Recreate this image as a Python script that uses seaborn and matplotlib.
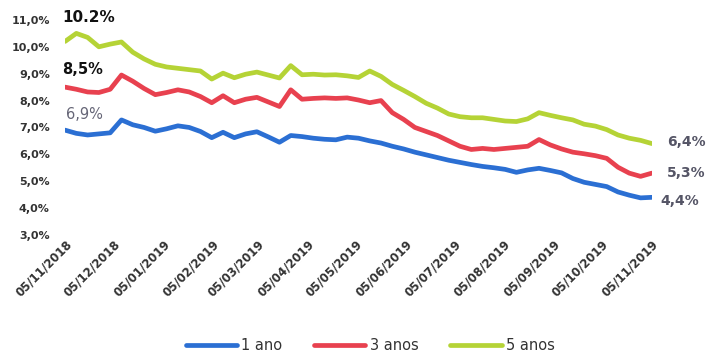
import numpy as np
import pandas as pd
import matplotlib
matplotlib.use("Agg")
import matplotlib.pyplot as plt
import seaborn as sns

# Weekly yields (%) from 05/11/2018 to 05/11/2019
series_names = ["1 ano", "3 anos", "5 anos"]

yield_1y = [6.90, 6.78, 6.72, 6.76, 6.80, 7.28, 7.10, 7.00, 6.86, 6.95,
            7.06, 7.00, 6.85, 6.62, 6.82, 6.62, 6.76, 6.84, 6.65, 6.45,
            6.70, 6.66, 6.60, 6.56, 6.54, 6.64, 6.60, 6.50, 6.42, 6.30,
            6.20, 6.08, 5.98, 5.88, 5.78, 5.70, 5.62, 5.55, 5.50, 5.44,
            5.33, 5.42, 5.48, 5.40, 5.31, 5.10, 4.96, 4.88, 4.80, 4.60,
            4.48, 4.38, 4.40]

yield_3y = [8.50, 8.42, 8.32, 8.30, 8.42, 8.95, 8.72, 8.45, 8.22, 8.30,
            8.40, 8.32, 8.15, 7.92, 8.18, 7.92, 8.05, 8.12, 7.95, 7.78,
            8.40, 8.05, 8.08, 8.10, 8.08, 8.10, 8.02, 7.92, 8.00, 7.55,
            7.30, 7.00, 6.85, 6.70, 6.50, 6.30, 6.18, 6.22, 6.18, 6.22,
            6.26, 6.30, 6.55, 6.35, 6.20, 6.08, 6.02, 5.95, 5.85, 5.52,
            5.30, 5.18, 5.30]

yield_5y = [10.20, 10.50, 10.35, 10.00, 10.10, 10.18, 9.80, 9.55, 9.35, 9.25,
            9.20, 9.15, 9.10, 8.80, 9.02, 8.85, 8.98, 9.06, 8.95, 8.84,
            9.30, 8.96, 8.98, 8.95, 8.96, 8.92, 8.86, 9.10, 8.90, 8.60,
            8.38, 8.15, 7.90, 7.72, 7.50, 7.40, 7.36, 7.36, 7.30, 7.24,
            7.22, 7.32, 7.55, 7.45, 7.36, 7.28, 7.12, 7.05, 6.92, 6.72,
            6.60, 6.52, 6.40]

start_label = ["6,9%", "8,5%", "10.2%"]
end_label = ["4,4%", "5,3%", "6,4%"]
y_ticks = [3, 4, 5, 6, 7, 8, 9, 10, 11]
y_tick_labels = ["3,0%", "4,0%", "5,0%", "6,0%", "7,0%", "8,0%", "9,0%", "10,0%", "11,0%"]

start, end = pd.Timestamp("2018-11-05"), pd.Timestamp("2019-11-05")
dates = pd.date_range(start, end, periods=len(yield_1y))
month_ticks = pd.date_range(start, end, freq=pd.DateOffset(months=1))

df = pd.DataFrame({
    "data": np.tile(dates, 3),
    "taxa": yield_1y + yield_3y + yield_5y,
    "prazo": np.repeat(series_names, len(dates)),
})

palette = {"1 ano": "#2b6fd3", "3 anos": "#e8414f", "5 anos": "#b5d336"}

sns.set_theme(style="white")
plt.rcParams["font.family"] = ["DejaVu Sans"]

fig = plt.figure(figsize=(7.07, 3.56), dpi=100)
ax = fig.add_axes([0.092, 0.34, 0.830, 0.604])

sns.lineplot(data=df, x="data", y="taxa", hue="prazo", palette=palette,
             linewidth=3.4, ax=ax, legend=True)

ax.set_xlim(start, end)
ax.set_ylim(3, 11)
ax.set_yticks(y_ticks)
ax.set_yticklabels(y_tick_labels, fontsize=8, fontweight="bold", color="#333333")
ax.set_xticks(month_ticks)
ax.set_xticklabels([d.strftime("%d/%m/%Y") for d in month_ticks],
                   rotation=45, ha="right", rotation_mode="anchor",
                   fontsize=8.5, fontweight="bold", color="#333333")
ax.tick_params(axis="y", length=0, pad=11)
ax.tick_params(axis="x", length=0, pad=2)
ax.set_xlabel("")
ax.set_ylabel("")
sns.despine(ax=ax, left=True, bottom=True)

# Value labels at both ends of each curve
ax.annotate(start_label[2], (dates[0], yield_5y[0]), xytext=(-2, 12),
            textcoords="offset points", fontsize=11, fontweight="bold",
            color="#111111", ha="left", va="bottom")
ax.annotate(start_label[1], (dates[0], yield_3y[0]), xytext=(-2, 7),
            textcoords="offset points", fontsize=10.5, fontweight="bold",
            color="#111111", ha="left", va="bottom")
ax.annotate(start_label[0], (dates[0], yield_1y[0]), xytext=(1, 6),
            textcoords="offset points", fontsize=10.5,
            color="#666677", ha="left", va="bottom")
for lab, vals, dx, dy in zip(end_label, [yield_1y, yield_3y, yield_5y],
                             [6, 11, 11], [-3, 0, 1]):
    ax.annotate(lab, (dates[-1], vals[-1]), xytext=(dx, dy),
                textcoords="offset points", fontsize=10, fontweight="bold",
                color="#555566", ha="left", va="center")

sns.move_legend(ax, "lower center", bbox_to_anchor=(0.52, -0.61), ncol=3,
                frameon=False, title=None, fontsize=10.5, handlelength=3.5,
                columnspacing=2.2, handletextpad=0.3)
for t in ax.get_legend().get_texts():
    t.set_color("#333333")

fig.savefig("out.png", dpi=100)
